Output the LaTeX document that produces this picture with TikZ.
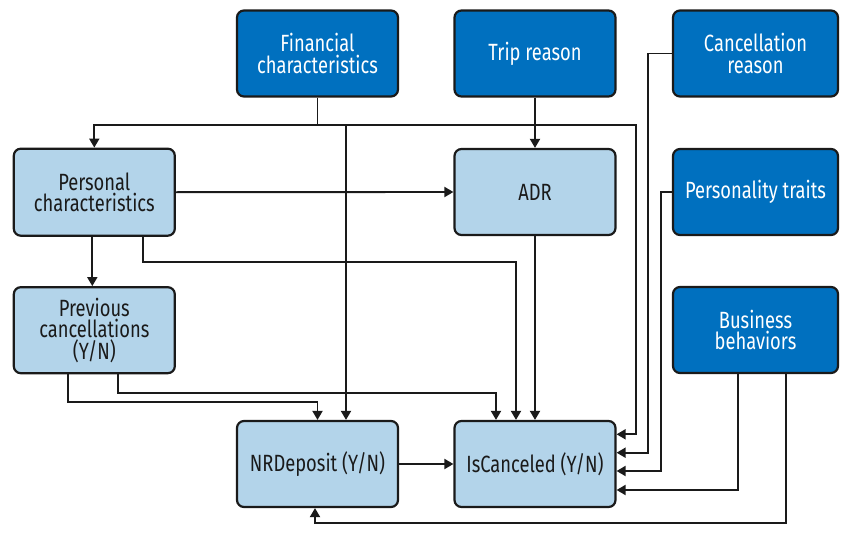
\documentclass[tikz,border=0pt]{standalone}
\usepackage{fontspec}
\setmainfont{Fira Sans}[FakeStretch=0.78]
\usetikzlibrary{arrows.meta,calc}
\definecolor{darkb}{HTML}{0070BF}
\definecolor{lightb}{HTML}{B3D4EA}
\definecolor{ink}{HTML}{1A1A1A}
\tikzset{
  boxbase/.style={draw=ink, line width=2.2pt, rounded corners=7pt, align=center,
    inner sep=2pt, font=\fontsize{23.5}{21.5}\selectfont},
  darkbox/.style={boxbase, fill=darkb, text=white},
  lightbox/.style={boxbase, fill=lightb, text=ink},
  conn/.style={draw=ink, line width=1.9pt, -{Triangle[length=9pt,width=10pt]}},
}
\begin{document}
\begin{tikzpicture}[x=1pt,y=-1pt]
\useasboundingbox (0,0) rectangle (849,535);
% nodes
\node[darkbox, minimum width=161pt, minimum height=86pt] (fin) at (317.5,53.5) {Financial\\characteristics};
\node[darkbox, minimum width=161pt, minimum height=86pt] (trip) at (535,53.5) {Trip reason};
\node[darkbox, minimum width=165pt, minimum height=86pt] (canc) at (755.5,53.5) {Cancellation\\reason};
\node[lightbox, minimum width=161pt, minimum height=87pt] (pers) at (94.3,192.2) {Personal\\characteristics};
\node[lightbox, minimum width=161pt, minimum height=86pt] (adr) at (535,192) {ADR};
\node[darkbox, minimum width=165pt, minimum height=86pt] (ptr) at (755.5,192) {Personality traits};
\node[lightbox, minimum width=161pt, minimum height=86pt] (prev) at (94.3,330.2) {Previous\\cancellations\\(Y/N)};
\node[lightbox, minimum width=161pt, minimum height=86pt] (nrd) at (317.5,464) {NRDeposit (Y/N)};
\node[lightbox, minimum width=161pt, minimum height=86pt] (isc) at (535,464) {IsCanceled (Y/N)};
\node[darkbox, minimum width=165pt, minimum height=86pt] (bus) at (755.5,330) {Business\\behaviors};
% helper coordinates
\coordinate (r1) at (0,125);
\coordinate (r2) at (0,261.7);
\coordinate (r3) at (0,392.7);
\coordinate (r4) at (0,402.3);
\coordinate (r5) at (0,523.3);
\coordinate (c1) at (636,0);
\coordinate (c2) at (648,0);
\coordinate (c3) at (661,0);
\coordinate (iE1) at ([yshift=29.7pt]isc.east);
\coordinate (iE2) at ([yshift=11.3pt]isc.east);
\coordinate (iE3) at ([yshift=-7pt]isc.east);
\coordinate (iE4) at ([yshift=-26pt]isc.east);
\coordinate (iN1) at ([xshift=-39pt]isc.north);
\coordinate (iN2) at ([xshift=-19pt]isc.north);
\coordinate (nN2) at ([xshift=28.5pt]nrd.north);
\coordinate (nS) at ([xshift=-2.5pt]nrd.south);
\coordinate (pS1) at ([xshift=-2pt]pers.south);
\coordinate (pN1) at ([xshift=-2pt]prev.north);
\coordinate (pS2) at ([xshift=48.5pt]pers.south);
\coordinate (vS1) at ([xshift=-26pt]prev.south);
\coordinate (vS2) at ([xshift=24pt]prev.south);
\coordinate (bS1) at ([xshift=-17.5pt]bus.south);
\coordinate (bS2) at ([xshift=30.5pt]bus.south);
% connectors
\draw[conn] (fin.south) -- (fin.south |- r1) -| (pers.north);
\draw[conn] (fin.south |- r1) -| (nN2);
\draw[conn] (fin.south |- r1) -| (c1 |- iE1) -- (iE1);
\draw[conn] (trip) -- (adr);
\draw[conn] (pers.east) -- (adr.west);
\draw[conn] (pS1) -- (pN1);
\draw[conn] (pS2) -- (pS2 |- r2) -| (iN2);
\draw[conn] (vS1) -- (vS1 |- r4) -| (nrd.north);
\draw[conn] (vS2) -- (vS2 |- r3) -| (iN1);
\draw[conn] (adr) -- (isc);
\draw[conn] (nrd) -- (isc);
\draw[conn] (canc.west) -| (c2 |- iE2) -- (iE2);
\draw[conn] (ptr.west) -| (c3 |- iE3) -- (iE3);
\draw[conn] (bS1) |- (iE4);
\draw[conn] (bS2) -- (bS2 |- r5) -| (nS);
\end{tikzpicture}
\end{document}
